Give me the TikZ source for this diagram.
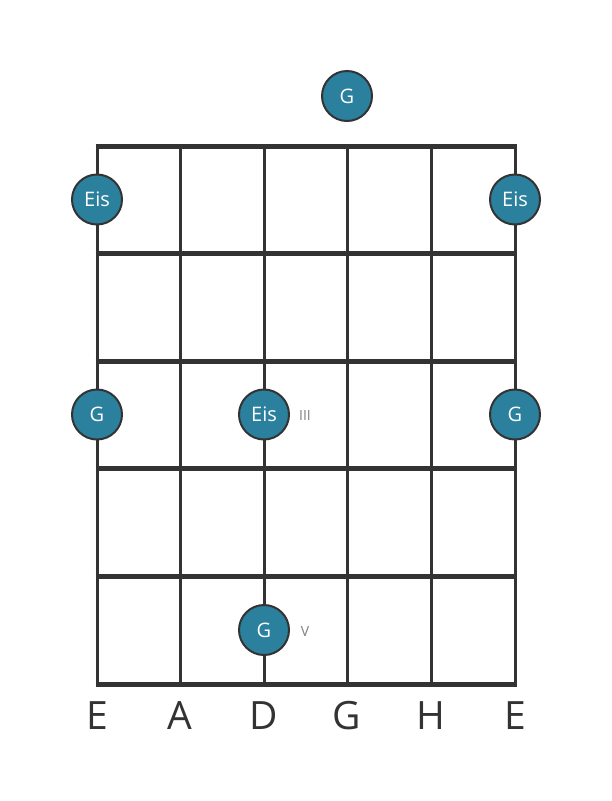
\documentclass[tikz,border=0pt]{standalone}
\usepackage{fontspec}
\setmainfont{Open Sans}
\definecolor{dotfill}{RGB}{42,128,157}
\definecolor{ink}{RGB}{51,51,51}
\definecolor{numgrey}{RGB}{128,128,128}
\begin{document}
\begin{tikzpicture}[x=1pt,y=-1pt,
  fretline/.style={draw=ink,line width=5pt},
  stringline/.style={draw=ink,line width=3pt},
  notedot/.style={circle,fill=dotfill,draw=ink,line width=2pt,minimum size=50pt,inner sep=0pt,text=white,font=\fontsize{20}{20}\selectfont},
  strname/.style={text=ink,font=\fontsize{39}{39}\selectfont,anchor=center},
  posnum/.style={text=numgrey,font=\fontsize{14}{14}\selectfont,anchor=center}]
\useasboundingbox (0,0) rectangle (611,801);
\fill[white] (0,0) rectangle (611,801);
% strings
\foreach \x/\n in {97/s1,180/s2,264/s3,347/s4,431/s5,515/s6}{
  \coordinate (\n t) at (\x,146);
  \coordinate (\n b) at (\x,684);
  \draw[stringline] (\n t) -- (\n b);
}
% frets
\foreach \y/\n in {146/f0,253.5/f1,361/f2,468.5/f3,576/f4,684/f5}{
  \coordinate (\n l) at (95.5,\y);
  \coordinate (\n r) at (516.5,\y);
  \draw[fretline] (\n l) -- (\n r);
}
% notes
\node[notedot] (n1) at (347,96) {G};
\node[notedot] (n2) at (97,199.5) {Eis};
\node[notedot] (n3) at (515,199.5) {Eis};
\node[notedot] (n4) at (97,414.5) {G};
\node[notedot] (n5) at (264,414.5) {Eis};
\node[notedot] (n6) at (515,414.5) {G};
\node[notedot] (n7) at (264,630) {G};
% position numerals
\node[posnum] (p3) at (305,415) {III};
\node[posnum] (p5) at (305,631) {V};
% string names
\node[strname] (l1) at (97,716) {E};
\node[strname] (l2) at (180,716) {A};
\node[strname] (l3) at (264,716) {D};
\node[strname] (l4) at (347,716) {G};
\node[strname] (l5) at (431,716) {H};
\node[strname] (l6) at (515,716) {E};
\end{tikzpicture}
\end{document}
